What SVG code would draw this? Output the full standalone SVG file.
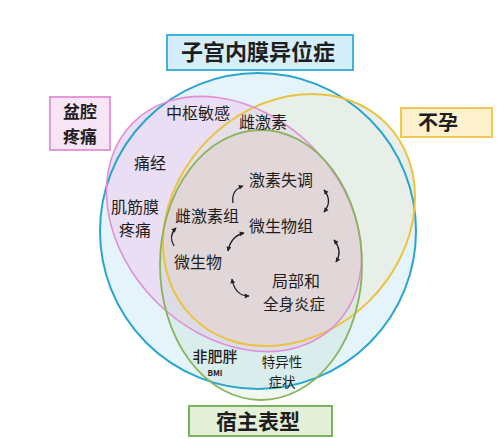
<svg xmlns="http://www.w3.org/2000/svg" width="500" height="439" viewBox="0 0 500 439">
<style>
text{font-family:"Noto Sans CJK SC","Noto Sans",sans-serif;fill:#1e1e1e;text-anchor:middle}
.lab{font-size:16px}
.sm{font-size:13.5px}
.box{font-weight:bold}
.arr{fill:none;stroke:#222;stroke-width:1.3}
</style>
<defs>
<marker id="ah" viewBox="0 0 10 10" refX="8" refY="5" markerWidth="6" markerHeight="6" orient="auto-start-reverse" markerUnits="userSpaceOnUse">
<path d="M1,1 L9,5 L1,9 Z" fill="#222"/>
</marker>
<clipPath id="cPink"><ellipse cx="234" cy="224" rx="143" ry="110" transform="rotate(45 234 224)"/></clipPath>
<clipPath id="cGreen"><ellipse cx="261" cy="265" rx="101" ry="135"/></clipPath>
</defs>
<rect width="500" height="439" fill="#ffffff"/>
<g id="fills">
<circle cx="258" cy="231" r="158" fill="#e5f4fb"/>
<ellipse cx="289" cy="220" rx="137" ry="114" transform="rotate(-45 289 220)" fill="#e8efe8"/>
<ellipse cx="234" cy="224" rx="143" ry="110" transform="rotate(45 234 224)" fill="#e9def3"/>
<g clip-path="url(#cPink)">
<ellipse cx="289" cy="220" rx="137" ry="114" transform="rotate(-45 289 220)" fill="#e5e0e7"/>
</g>
<ellipse cx="261" cy="265" rx="101" ry="135" fill="rgb(150,205,150)" fill-opacity="0.14"/>
<g clip-path="url(#cPink)">
<g clip-path="url(#cGreen)">
<ellipse cx="289" cy="220" rx="137" ry="114" transform="rotate(-45 289 220)" fill="#e1d7d9"/>
</g>
</g>
</g>
<g id="endometriosis">
<circle cx="258" cy="231" r="158" fill="none" stroke="#2aa5cf" stroke-width="2"/>
<rect x="167" y="35" width="186" height="35" fill="#d6eef9" stroke="#3fb3da" stroke-width="2"/>
<text class="box" x="258" y="60" font-size="22">子宫内膜异位症</text>
</g>
<g id="infertility">
<ellipse cx="289" cy="220" rx="137" ry="114" transform="rotate(-45 289 220)" fill="none" stroke="#ecc340" stroke-width="2"/>
<rect x="401" y="108" width="91" height="29" fill="#fdf0cd" stroke="#eec955" stroke-width="2"/>
<text class="box" x="438" y="130" font-size="20">不孕</text>
</g>
<g id="pelvic-pain">
<ellipse cx="234" cy="224" rx="143" ry="110" transform="rotate(45 234 224)" fill="none" stroke="#e090d6" stroke-width="1.6"/>
<rect x="50" y="97" width="60" height="53" fill="#f7e4f5" stroke="#e39ad9" stroke-width="2"/>
<text class="box" x="80" y="118" font-size="17">盆腔</text>
<text class="box" x="80" y="143" font-size="17">疼痛</text>
</g>
<g id="host-phenotype">
<ellipse cx="261" cy="265" rx="101" ry="135" fill="none" stroke="#88b35d" stroke-width="1.8"/>
<rect x="189" y="406" width="143" height="30" fill="#e3efd6" stroke="#7db25c" stroke-width="2"/>
<text class="box" x="258" y="429" font-size="21">宿主表型</text>
</g>
<g id="labels">
<text class="lab" x="198" y="119">中枢敏感</text>
<text class="lab" x="263" y="128">雌激素</text>
<text class="lab" x="150" y="169">痛经</text>
<text class="lab" x="135" y="213">肌筋膜</text>
<text class="lab" x="135" y="236">疼痛</text>
<text class="lab" x="207" y="222">雌激素组</text>
<text class="lab" x="198" y="268">微生物</text>
<text class="lab" x="281" y="186">激素失调</text>
<text class="lab" x="281" y="232">微生物组</text>
<text x="296" y="287" style="font-size:16px">局部和</text>
<text x="294" y="310" style="font-size:15.5px">全身炎症</text>
<text x="215" y="362" style="font-size:15px;font-weight:500">非肥胖</text>
<text x="215" y="376" style="font-size:8px;font-weight:bold">BMI</text>
<text class="sm" x="282" y="367">特异性</text>
<text class="sm" x="282" y="387">症状</text>
</g>
<g id="connectors">
<path class="arr" d="M233,203 Q231,190 243,186" marker-end="url(#ah)"/>
<path class="arr" d="M174,246 Q168,236 176,228" marker-end="url(#ah)"/>
<path class="arr" d="M228,251 Q231,236 244,233" marker-start="url(#ah)" marker-end="url(#ah)"/>
<path class="arr" d="M232,279 Q235,296 249,296" marker-start="url(#ah)" marker-end="url(#ah)"/>
<path class="arr" d="M324,190 Q333,201 324,212" marker-start="url(#ah)" marker-end="url(#ah)"/>
<path class="arr" d="M334,240 Q343,251 336,262" marker-start="url(#ah)" marker-end="url(#ah)"/>
</g>
</svg>
